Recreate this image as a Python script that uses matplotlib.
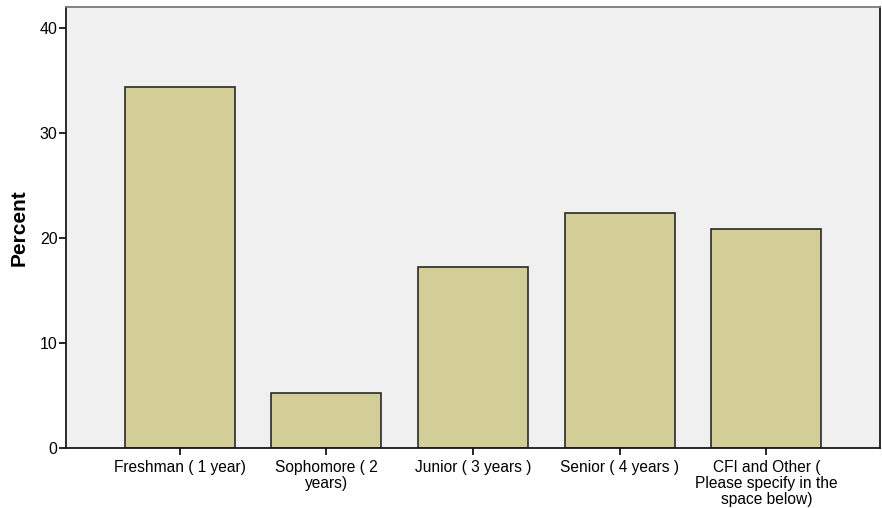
import matplotlib
matplotlib.use("Agg")
import matplotlib.pyplot as plt

categories = ["Freshman ( 1 year)", "Sophomore ( 2\nyears)", "Junior ( 3 years )",
              "Senior ( 4 years )", "CFI and Other (\nPlease specify in the\nspace below)"]
percent = [34.4, 5.2, 17.2, 22.4, 20.9]
yticks = [0, 10, 20, 30, 40]

plt.rcParams['font.family'] = ['Liberation Sans', 'DejaVu Sans']

fig = plt.figure(figsize=(8.82, 5.08), dpi=100)
ax = fig.add_axes([0.0748, 0.1181, 0.9229, 0.8679])
ax.set_facecolor('#F0F0F0')

x = list(range(len(categories)))
ax.bar(x, percent, width=0.75, color='#D3CE97', edgecolor='#2a2a2a', linewidth=1.2, zorder=2)

ax.set_xlim(-0.774, 4.775)
ax.set_ylim(0, 42)
ax.set_yticks(yticks)
ax.set_xticks(x)
ax.set_xticklabels(categories, fontsize=11.2, linespacing=1.08, va='top')
ax.tick_params(axis='y', labelsize=11.5, length=5, width=1.2, direction='out', pad=1)
ax.tick_params(axis='x', length=5, width=1.2, direction='out', pad=3.5)
ax.set_ylabel("Percent", fontsize=15, fontweight='bold', labelpad=8)

for side in ['left', 'bottom', 'right']:
    ax.spines[side].set_color('#1a1a1a')
    ax.spines[side].set_linewidth(1.3)
ax.spines['top'].set_color('#7a7a7a')
ax.spines['top'].set_linewidth(1.3)

fig.savefig("out.png", dpi=100)
